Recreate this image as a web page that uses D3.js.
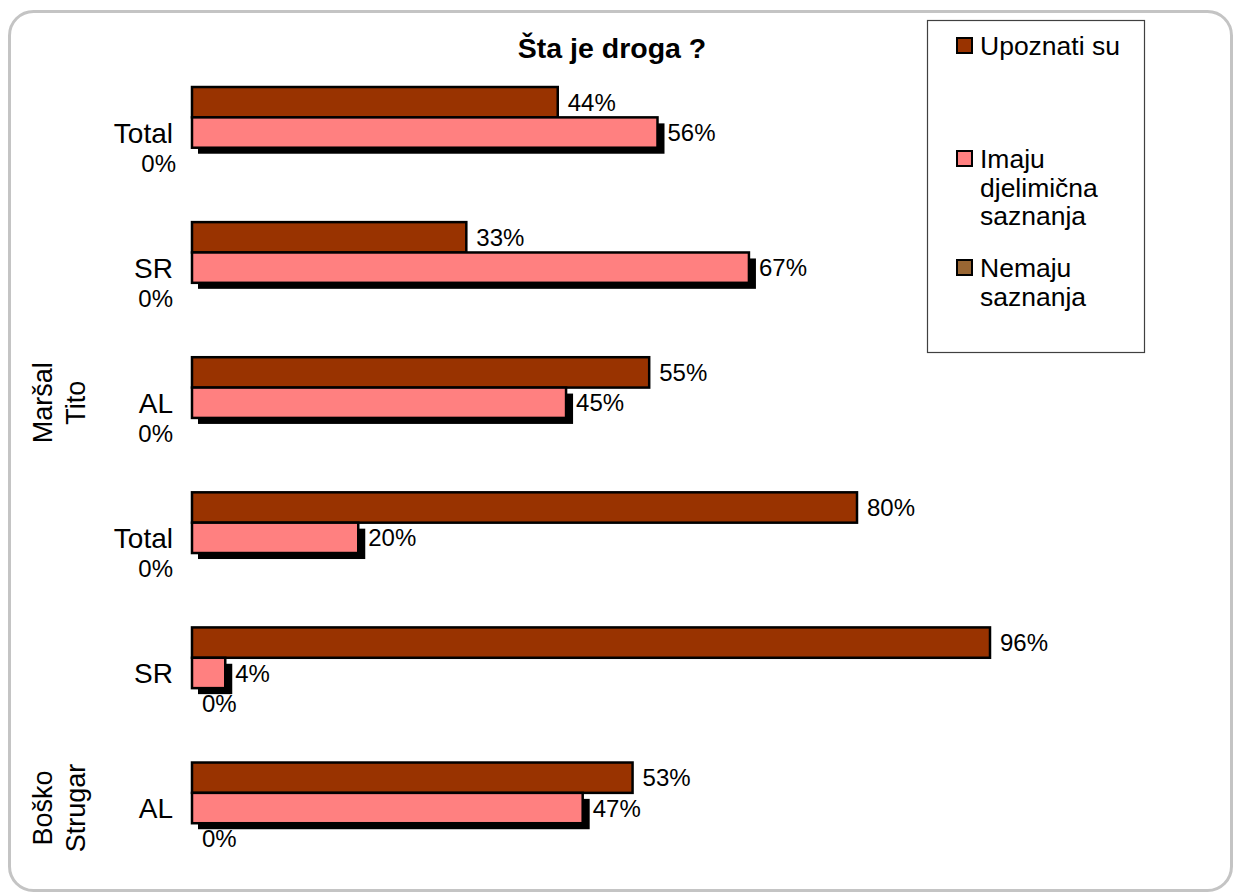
<!DOCTYPE html>
<html>
<head>
<meta charset="utf-8">
<script src="https://cdn.jsdelivr.net/npm/d3@7"></script>
<style>
  html, body { margin: 0; padding: 0; background: #fff; }
  svg { display: block; }
  text { font-family: "Liberation Sans", Arial, sans-serif; fill: #000; }
</style>
</head>
<body>
<svg id="chart" width="1233" height="894"></svg>
<script>
// ---- data ----
const title = "Šta je droga ?";
const categories = ["Total", "SR", "AL", "Total", "SR", "AL"];
const groupNames = [["Maršal", "Tito"], ["Boško", "Strugar"]];
const groupOfRow = [0, 0, 0, 1, 1, 1];
const seriesNames = ["Upoznati su", "Imaju djelimična saznanja", "Nemaju saznanja"];
const upoznati = [44, 33, 55, 80, 96, 53];
const imaju = [56, 67, 45, 20, 4, 47];
const nemaju = [0, 0, 0, 0, 0, 0];
const legendLines = [["Upoznati su"], ["Imaju", "djelimična", "saznanja"], ["Nemaju", "saznanja"]];

const colors = ["#993300", "#FF8080", "#996633"];
const seriesValues = [upoznati, imaju, nemaju];

const svg = d3.select("#chart");

// frame
svg.append("rect")
  .attr("x", 9.5).attr("y", 11.5).attr("width", 1222).attr("height", 879)
  .attr("rx", 24).attr("ry", 24)
  .attr("fill", "#fff").attr("stroke", "#c4c4c4").attr("stroke-width", 3);

// scales
const x = d3.scaleLinear().domain([0, 100]).range([192, 1023.25]);
const rows = d3.range(categories.length);
const y = d3.scaleBand().domain(rows).range([65, 875.6]).paddingInner(0.326).paddingOuter(0.163);
const ySub = d3.scaleBand().domain([0, 1, 2]).range([0, y.bandwidth()]);

// title
svg.append("text").attr("x", 612).attr("y", 58).attr("text-anchor", "middle")
  .style("font-size", "28.5px").style("font-weight", "bold").text(title);

const plot = svg.append("g");

// shadows for pink bars
plot.selectAll("rect.shadow").data(rows).join("rect")
  .attr("class", "shadow")
  .attr("x", x(0) + 6)
  .attr("y", i => y(i) + ySub(1) + 6)
  .attr("width", i => x(imaju[i]) - x(0) + 1)
  .attr("height", ySub.bandwidth())
  .attr("fill", "#000");

// bars (series 0 and 1; series 2 has zero width)
[0, 1].forEach(s => {
  plot.selectAll("rect.s" + s).data(rows).join("rect")
    .attr("class", "s" + s)
    .attr("x", x(0))
    .attr("y", i => y(i) + ySub(s))
    .attr("width", i => x(seriesValues[s][i]) - x(0))
    .attr("height", ySub.bandwidth())
    .attr("fill", colors[s])
    .attr("stroke", "#000").attr("stroke-width", 2.5);
});

// data labels
[0, 1].forEach(s => {
  plot.selectAll("text.l" + s).data(rows).join("text")
    .attr("class", "l" + s)
    .attr("x", i => x(seriesValues[s][i]) + 10)
    .attr("y", i => y(i) + ySub(s) + ySub.bandwidth() / 2)
    .attr("dy", "0.36em")
    .style("font-size", "24px")
    .text(i => seriesValues[s][i] + "%");
});
// zero labels of third series
plot.selectAll("text.l2").data(rows).join("text")
  .attr("class", "l2")
  .attr("x", i => i < 4 ? x(0) - 19 + (i === 0 ? 3 : 0) : x(0) + 10)
  .attr("text-anchor", i => i < 4 ? "end" : "start")
  .attr("y", i => y(i) + ySub(2) + ySub.bandwidth() / 2)
  .attr("dy", "0.36em")
  .style("font-size", "24px")
  .text(i => nemaju[i] + "%");

// category labels
plot.selectAll("text.cat").data(rows).join("text")
  .attr("class", "cat")
  .attr("x", 173)
  .attr("y", i => y(i) + ySub(1) + ySub.bandwidth() / 2)
  .attr("dy", "0.36em")
  .attr("text-anchor", "end")
  .style("font-size", "28px")
  .text(i => categories[i]);

// group labels (aligned with last row of each group)
groupNames.forEach((lines, g) => {
  const lastRow = d3.max(rows.filter(i => groupOfRow[i] === g));
  const cy = y(lastRow) + ySub(1) + ySub.bandwidth() / 2;
  lines.forEach((ln, k) => {
    const bx = 52 + k * 33;
    svg.append("text")
      .attr("transform", `translate(${bx},${cy}) rotate(-90)`)
      .attr("text-anchor", "middle")
      .style("font-size", "27px")
      .text(ln);
  });
});

// legend
const lg = svg.append("g");
lg.append("rect").attr("x", 927.5).attr("y", 20.5).attr("width", 217).attr("height", 332)
  .attr("fill", "#fff").attr("stroke", "#404040").attr("stroke-width", 1.2);
const legendBaselines = [55, 168, 277];
legendLines.forEach((lines, s) => {
  const b = legendBaselines[s];
  lg.append("rect").attr("x", 957).attr("y", b - 17).attr("width", 15).attr("height", 15)
    .attr("fill", colors[s]).attr("stroke", "#000").attr("stroke-width", 2);
  lines.forEach((ln, k) => {
    lg.append("text").attr("x", 980).attr("y", b + k * 28.5)
      .style("font-size", "26.5px").text(ln);
  });
});
</script>
</body>
</html>
